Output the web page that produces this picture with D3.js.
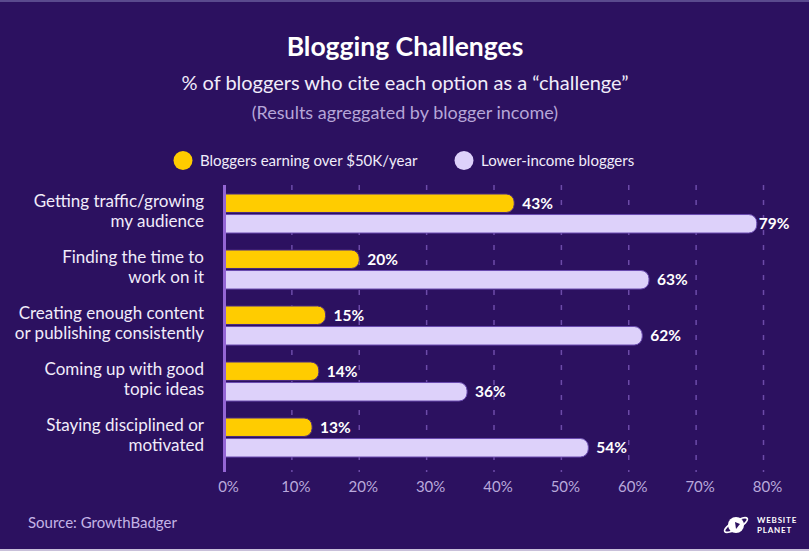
<!DOCTYPE html>
<html>
<head>
<meta charset="utf-8">
<script src="https://cdn.jsdelivr.net/npm/d3@7"></script>
<style>
  html, body { margin: 0; padding: 0; background: #2c1160; }
  svg { display: block; }
  text { font-family: Lato, "Noto Sans", sans-serif; }
</style>
</head>
<body>
<svg id="chart" width="809" height="551"></svg>
<script>
const categories = [
  ["Getting traffic/growing", "my audience"],
  ["Finding the time to", "work on it"],
  ["Creating enough content", "or publishing consistently"],
  ["Coming up with good", "topic ideas"],
  ["Staying disciplined or", "motivated"]
];
const seriesNames = ["Bloggers earning over $50K/year", "Lower-income bloggers"];
const highIncome = [43, 20, 15, 14, 13];
const lowerIncome = [79, 63, 62, 36, 54];
const tickValues = [0, 10, 20, 30, 40, 50, 60, 70, 80];
const colors = ["#ffcc00", "#ddd1fa"];

const svg = d3.select("#chart");
const W = 809, H = 551;

svg.append("rect").attr("width", W).attr("height", H).attr("fill", "#2c1160");
svg.append("rect").attr("x", 0).attr("y", 0).attr("width", W).attr("height", 2).attr("fill", "#5a4a8e");
svg.append("rect").attr("x", 0).attr("y", 549).attr("width", W).attr("height", 2).attr("fill", "#c9c1da");

// Titles
svg.append("text").attr("x", 405).attr("y", 56).attr("text-anchor", "middle")
  .attr("fill", "#ffffff").attr("font-size", 26.5).attr("font-weight", 700).text("Blogging Challenges");
svg.append("text").attr("x", 405).attr("y", 90).attr("text-anchor", "middle")
  .attr("fill", "#f1ecfa").attr("font-size", 20).text("% of bloggers who cite each option as a \u201Cchallenge\u201D");
svg.append("text").attr("x", 405).attr("y", 119).attr("text-anchor", "middle")
  .attr("fill", "#b6a6d8").attr("font-size", 18).text("(Results agreggated by blogger income)");

// Legend
const legendX = [183, 464];
seriesNames.forEach((name, i) => {
  svg.append("circle").attr("cx", legendX[i]).attr("cy", 160.5).attr("r", 9.5).attr("fill", colors[i]);
  svg.append("text").attr("x", legendX[i] + 17).attr("y", 166).attr("fill", "#f1ecfa")
    .attr("font-size", 15).text(name);
});

// Scales
const x = d3.scaleLinear().domain([0, 80]).range([224.5, 763.5]);
const y = d3.scaleBand().domain(d3.range(categories.length)).range([188, 468]).padding(0);
const inner = d3.scaleBand().domain([0, 1]).range([6, 45]).paddingInner(0.1);

// Gridlines
svg.append("g").selectAll("line").data(tickValues.slice(1)).join("line")
  .attr("x1", d => x(d)).attr("x2", d => x(d))
  .attr("y1", 185).attr("y2", 472)
  .attr("stroke", "#6c4ba8").attr("stroke-width", 1.5).attr("stroke-dasharray", "5,10");

// Bars
function barPath(x0, x1, yy, h, r) {
  r = Math.min(r, (x1 - x0), h / 2);
  return `M${x0},${yy}H${x1 - r}A${r},${r} 0 0 1 ${x1},${yy + r}V${yy + h - r}A${r},${r} 0 0 1 ${x1 - r},${yy + h}H${x0}Z`;
}
const rows = categories.map((c, i) => ({ i, vals: [highIncome[i], lowerIncome[i]] }));
const g = svg.append("g");
rows.forEach(row => {
  row.vals.forEach((v, s) => {
    const yy = y(row.i) + inner(s);
    const h = inner.bandwidth();
    g.append("path")
      .attr("d", barPath(x(0) + 1, x(v), yy, h, 8))
      .attr("fill", colors[s])
      .attr("stroke", s === 0 ? "#4a2a82" : "#6a4bb0")
      .attr("stroke-width", 1);
    g.append("text")
      .attr("x", x(v) + (v > 75 ? 2 : 8))
      .attr("y", yy + h / 2 + 5.5)
      .attr("fill", "#ffffff").attr("font-size", 15.5).attr("font-weight", 700)
      .text(v + "%");
  });
});

// Axis line
svg.append("line").attr("x1", x(0)).attr("x2", x(0)).attr("y1", 185).attr("y2", 472)
  .attr("stroke", "#9466d4").attr("stroke-width", 3);

// Category labels
rows.forEach(row => {
  const cy = y(row.i) + 25;
  categories[row.i].forEach((line, k) => {
    svg.append("text").attr("x", 204).attr("y", cy - 6 + k * 20)
      .attr("text-anchor", "end").attr("fill", "#f1ecfa").attr("font-size", 17).text(line);
  });
});

// X tick labels
svg.append("g").selectAll("text").data(tickValues).join("text")
  .attr("x", d => x(d) + 4).attr("y", 492).attr("text-anchor", "middle")
  .attr("fill", "#b9a9dc").attr("font-size", 15).text(d => d + "%");

// Source
svg.append("text").attr("x", 28).attr("y", 528).attr("fill", "#c4b4e6").attr("font-size", 15)
  .text("Source: GrowthBadger");

// Logo
const logo = svg.append("g").attr("transform", "translate(736,525)");
logo.append("circle").attr("r", 8).attr("fill", "#ffffff");
logo.append("ellipse").attr("rx", 13).attr("ry", 4).attr("fill", "none").attr("stroke", "#ffffff")
  .attr("stroke-width", 1.6).attr("transform", "rotate(-30)");
logo.append("path").attr("d", "M-1,-3 L4,-1 L0,4 Z").attr("fill", "#2c1160");
svg.append("text").attr("x", 757).attr("y", 523).attr("fill", "#ffffff").attr("font-size", 8)
  .attr("font-weight", 700).attr("letter-spacing", 0.8).text("WEBSITE");
svg.append("text").attr("x", 757).attr("y", 533).attr("fill", "#ffffff").attr("font-size", 8)
  .attr("font-weight", 700).attr("letter-spacing", 0.8).text("PLANET");
</script>
</body>
</html>
